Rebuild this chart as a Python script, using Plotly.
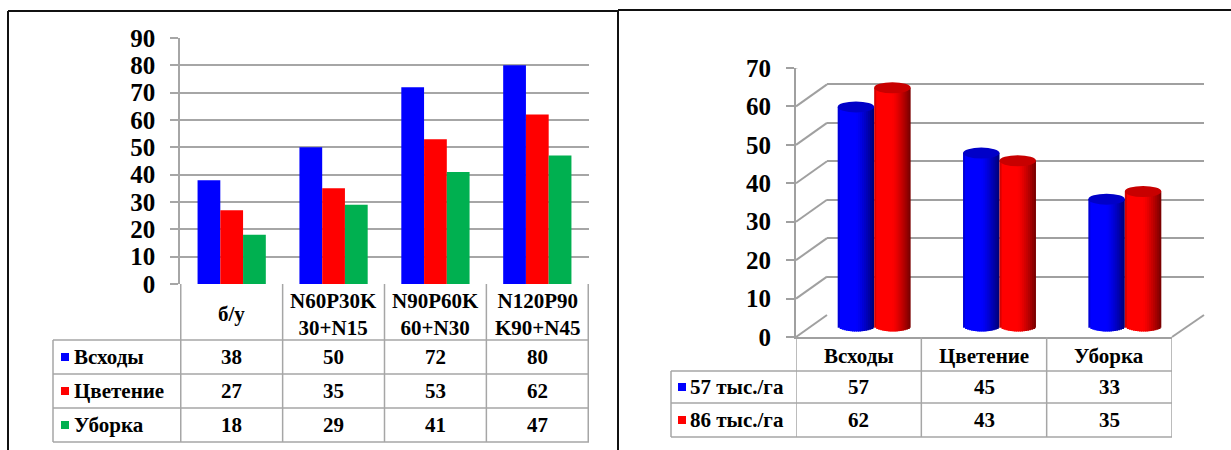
import math
import plotly.graph_objects as go

W, H = 1231, 450

# ---------- left chart: plant height by fertiliser treatment ----------
treatments = ["б/у", "N60P30K<br>30+N15", "N90P60K<br>60+N30", "N120P90<br>K90+N45"]
phases = ["Всходы", "Цветение", "Уборка"]
emergence = [38, 50, 72, 80]
flowering = [27, 35, 53, 62]
harvest = [18, 29, 41, 47]
left_series = [emergence, flowering, harvest]
left_colors = ["#0000ff", "#ff0000", "#00b050"]
left_ticks = [0, 10, 20, 30, 40, 50, 60, 70, 80, 90]

# ---------- right chart: plant density comparison ----------
densities = ["57 тыс./га", "86 тыс./га"]
density_57 = [57, 45, 33]
density_86 = [62, 43, 35]
right_series = [density_57, density_86]
right_colors = [(0, 0, 255), (255, 0, 0)]
right_caps = ["#0000c8", "#c80000"]
right_ticks = [0, 10, 20, 30, 40, 50, 60, 70]

FONT = "'Liberation Serif', 'Times New Roman', 'DejaVu Serif', serif"
GRID = "#a6a6a6"
TXT = dict(family=FONT, size=21, color="black", weight="bold")


def px(x):
    return x / W


def py(y):
    return 1 - y / H


fig = go.Figure()

# left grouped bars
for name, vals, col in zip(phases, left_series, left_colors):
    fig.add_trace(go.Bar(x=treatments, y=vals, name=name, marker=dict(color=col, line=dict(width=0)),
                         xaxis="x", yaxis="y", hoverinfo="skip", showlegend=False))

# back wall of the 3-D chart (gridlines only)
fig.add_trace(go.Scatter(x=phases, y=[0, 0, 0], mode="markers", marker=dict(opacity=0),
                         xaxis="x2", yaxis="y2", hoverinfo="skip", showlegend=False))
# front axis of the 3-D chart
fig.add_trace(go.Scatter(x=phases, y=[0, 0, 0], mode="markers", marker=dict(opacity=0),
                         xaxis="x3", yaxis="y3", hoverinfo="skip", showlegend=False))

# cylinders drawn as shaded vertical slices
CYL_W = 0.291
PX_PER_UNIT = (335.6 - 57) / 72.5
ELL_R = 5.5
b_units = ELL_R / PX_PER_UNIT
N = 18


def shade(t):
    f = 1.0
    if t > 0.5:
        f = 1 - 0.55 * ((t - 0.5) / 0.5) ** 1.3
    if t < 0.06:
        f = 0.85
    return f


for s, (vals, rgb) in enumerate(zip(right_series, right_colors)):
    center = (s - 0.5) * CYL_W
    for k in range(N):
        t0 = k / N
        t1 = min((k + 1.6) / N, 1.0)
        tm = (k + 0.5) / N
        f = shade(tm)
        col = "rgb(%d,%d,%d)" % tuple(int(c * f) for c in rgb)
        base = -b_units * math.sqrt(max(0.0, 1 - (2 * tm - 1) ** 2))
        fig.add_trace(go.Bar(
            x=phases, y=[v - base for v in vals], base=[base] * len(vals),
            offset=center - CYL_W / 2 + t0 * CYL_W, width=(t1 - t0) * CYL_W,
            marker=dict(color=col, line=dict(width=0)),
            xaxis="x4", yaxis="y4", hoverinfo="skip", showlegend=False))

shapes = []
annotations = []


def line(x0, y0, x1, y1, color=GRID, width=1.5, xref="paper", yref="paper"):
    shapes.append(dict(type="line", x0=x0, y0=y0, x1=x1, y1=y1, xref=xref, yref=yref,
                       line=dict(color=color, width=width)))


def label(x, y, text, xref="paper", xanchor="center"):
    annotations.append(dict(x=x, y=y, xref=xref, yref="paper", text=text, showarrow=False,
                            xanchor=xanchor, yanchor="middle", font=TXT))


# cylinder caps
for s, vals in enumerate(right_series):
    center = (s - 0.5) * CYL_W
    for i, v in enumerate(vals):
        shapes.append(dict(type="circle", xref="x4", yref="y4", ysizemode="pixel", yanchor=v,
                           x0=i + center - CYL_W / 2, x1=i + center + CYL_W / 2,
                           y0=-ELL_R, y1=ELL_R, fillcolor=right_caps[s], line=dict(width=0)))

# 3-D wall: diagonals from front axis to back wall
for v in right_ticks:
    shapes.append(dict(type="line", xref="paper", yref="y3", ysizemode="pixel", yanchor=v,
                       x0=px(796), x1=px(827), y0=0, y1=22, line=dict(color="#a0a0a0", width=2)))
# floor right edge
line(px(1172), py(337), px(1204), py(315), color="#a0a0a0", width=2)

# ---- left table ----
for b in [-0.5, 0.5, 1.5, 2.5, 3.5]:
    line(b, py(284), b, py(442), xref="x")
line(px(53), py(340), px(53), py(442))
for yy in [340, 374, 408, 442]:
    line(px(53), py(yy), px(589), py(yy))

for i, lab in enumerate(treatments):
    label(i, py(314), lab, xref="x")

row_y = [357, 391, 425]
for r, (name, vals, col) in enumerate(zip(phases, left_series, left_colors)):
    yc = row_y[r]
    shapes.append(dict(type="rect", xref="paper", yref="paper", x0=px(61), x1=px(69),
                       y0=py(yc + 4), y1=py(yc - 4), fillcolor=col, line=dict(width=0)))
    label(px(72), py(yc), name, xanchor="left")
    for i, v in enumerate(vals):
        label(i, py(yc), str(v), xref="x")

# ---- right table ----
for b in [-0.5, 0.5, 1.5, 2.5]:
    line(b, py(337), b, py(437), xref="x3")
line(px(671), py(371), px(671), py(437))
for yy in [371, 403, 437]:
    line(px(671), py(yy), px(1172), py(yy))

for i, lab in enumerate(phases):
    label(i, py(356), lab, xref="x3")

rrow_y = [387, 420]
for r, (name, vals) in enumerate(zip(densities, right_series)):
    yc = rrow_y[r]
    col = "rgb(%d,%d,%d)" % right_colors[r]
    shapes.append(dict(type="rect", xref="paper", yref="paper", x0=px(678), x1=px(686),
                       y0=py(yc + 4), y1=py(yc - 4), fillcolor=col, line=dict(width=0)))
    label(px(688), py(yc), name, xanchor="left")
    for i, v in enumerate(vals):
        label(i, py(yc), str(v), xref="x3")

# ---- chart frames ----
FRAME = "#111111"
line(px(8), py(11), px(8), py(452), color=FRAME, width=2)
line(px(8), py(11), px(618), py(11), color=FRAME, width=2)
line(px(618), py(10), px(618), py(452), color=FRAME, width=2)
line(px(618), py(10), px(1232), py(10), color=FRAME, width=2)

tickfont = dict(family=FONT, size=25, color="black", weight="bold")
hidden = dict(showticklabels=False, showgrid=False, zeroline=False, showline=False, ticks="",
              automargin=False)

fig.update_layout(
    width=W, height=H, margin=dict(l=0, r=0, t=0, b=0, pad=0, autoexpand=False),
    paper_bgcolor="white", plot_bgcolor="rgba(0,0,0,0)",
    font=dict(family=FONT),
    barmode="group", bargap=0.33, bargroupgap=0,
    showlegend=False,
    xaxis=dict(domain=[px(180), px(589)], type="category", anchor="y", **hidden),
    yaxis=dict(domain=[py(284), py(38)], range=[0, 90], anchor="x", tickvals=left_ticks,
               showgrid=True, gridcolor=GRID, gridwidth=1.5, zeroline=False,
               showline=True, linecolor=GRID, linewidth=1.5,
               ticks="outside", ticklen=8, tickcolor=GRID, tickwidth=1.5,
               tickfont=tickfont, ticklabelstandoff=10, automargin=False),
    xaxis2=dict(domain=[px(827), px(1204)], type="category", anchor="y2", **hidden),
    yaxis2=dict(domain=[py(315), py(46)], range=[0, 70], anchor="x2", tickvals=right_ticks,
                showticklabels=False, showgrid=True, gridcolor="#a0a0a0", gridwidth=2,
                zeroline=False, showline=False, ticks="", automargin=False),
    xaxis3=dict(domain=[px(796), px(1172)], type="category", anchor="y3", range=[-0.5, 2.5],
                showticklabels=False, showgrid=False, zeroline=False,
                showline=True, linecolor="#a0a0a0", linewidth=2, ticks="", automargin=False),
    yaxis3=dict(domain=[py(337), py(68)], range=[0, 70], anchor="x3", tickvals=right_ticks,
                showgrid=False, zeroline=False, showline=True, linecolor="#a0a0a0", linewidth=2,
                ticks="outside", ticklen=8, tickcolor="#a0a0a0", tickwidth=2,
                tickfont=tickfont, ticklabelstandoff=10, automargin=False),
    xaxis4=dict(domain=[px(811.5), px(1187.5)], type="category", anchor="y4", range=[-0.5, 2.5],
                **hidden),
    yaxis4=dict(domain=[py(335.6), py(57)], range=[-2.5, 70], anchor="x4", **hidden),
    shapes=shapes, annotations=annotations,
)

fig.write_html("out.html")
